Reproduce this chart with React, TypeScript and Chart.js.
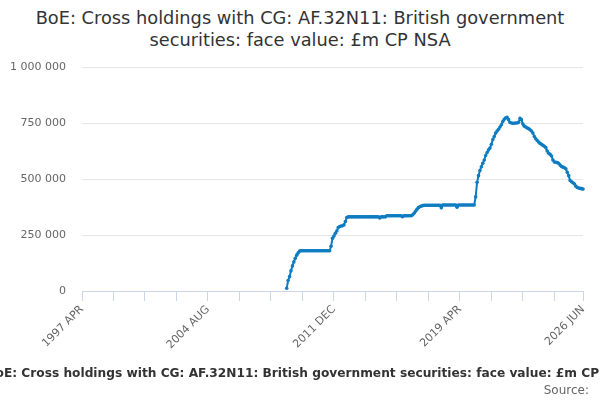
import React, { useEffect, useRef } from 'react';
import { Chart, registerables } from 'chart.js';

Chart.register(...registerables);

const TITLE_LINE_1 = 'BoE: Cross holdings with CG: AF.32N11: British government';
const TITLE_LINE_2 = 'securities: face value: £m CP NSA';
const FOOTER_TITLE =
  'BoE: Cross holdings with CG: AF.32N11: British government securities: face value: £m CP NSA';
const SOURCE_TEXT = 'Source:';

const MONTH_NAMES = ['JAN', 'FEB', 'MAR', 'APR', 'MAY', 'JUN', 'JUL', 'AUG', 'SEP', 'OCT', 'NOV', 'DEC'];
const START_YEAR = 1997;
const START_MONTH = 3; // APR (0-based)
const MONTH_COUNT = 351; // 1997 APR .. 2026 JUN
const SERIES_START = 143; // 2009 MAR
const LABEL_EVERY = 88;
const TICK_EVERY = 22;

const Y_TICKS = [0, 250000, 500000, 750000, 1000000];

// £m, monthly from 2009 MAR to 2026 JUN
const holdings = [
  12000, 47000, 64000, 90000, 112000, 130000, 146000, 160000, 170000, 178000,
  180000, 180000, 180000, 180000, 180000, 180000, 180000, 180000, 180000, 180000,
  180000, 180000, 180000, 180000, 180000, 180000, 180000, 180000, 180000, 180000, 180000,
  200000, 235000, 245000, 258000, 268000, 283000, 288000, 290000, 291000, 295000, 310000, 328000,
  331000, 331000, 331000, 331000, 331000, 331000, 331000, 331000, 331000, 331000, 331000,
  331000, 331000, 331000, 331000, 331000, 331000, 331000, 331000, 331000, 331000, 331000,
  326000,
  331000, 331000, 331000, 331000,
  336000, 336000, 336000, 336000, 336000, 336000, 336000, 336000, 336000, 336000, 336000,
  332000,
  336000, 336000, 336000, 336000, 336000, 336000,
  340000, 347000, 356000, 365000, 372000, 376000, 379000, 381000,
  383000, 383000, 383000, 383000, 383000, 383000, 383000, 383000, 383000, 383000, 383000, 383000,
  372000,
  384000, 384000, 384000, 384000, 384000, 384000, 384000, 384000, 384000, 384000,
  374000,
  384000, 384000, 384000, 384000, 384000, 384000, 384000, 384000, 384000, 384000, 384000, 384000,
  420000, 485000, 515000, 538000, 555000, 570000, 585000, 605000, 618000, 630000,
  638000, 655000, 676000, 690000, 705000, 714000, 722000, 732000, 742000, 757000,
  767000, 773000, 775000, 765000, 752000, 750000, 749000, 749000, 750000, 750000,
  753000, 771000, 765000, 745000, 736000, 732000, 728000, 725000, 720000, 714000,
  705000, 690000, 680000, 672000, 665000, 659000, 655000, 650000, 646000, 640000,
  625000, 615000, 610000, 603000, 585000, 576000, 575000, 573000, 570000, 562000,
  556000, 553000, 550000, 546000, 530000, 515000, 493000, 488000, 483000, 478000,
  468000, 462000, 460000, 458000, 457000, 455000,
];

const categories: string[] = [];
for (let i = 0; i < MONTH_COUNT; i++) {
  const m = START_MONTH + i;
  categories.push(`${START_YEAR + Math.floor(m / 12)} ${MONTH_NAMES[m % 12]}`);
}

const seriesData: (number | null)[] = [];
for (let i = 0; i < MONTH_COUNT; i++) {
  const k = i - SERIES_START;
  seriesData.push(k >= 0 && k < holdings.length ? holdings[k] : null);
}

const fmt = (v: number) => String(v).replace(/\B(?=(\d{3})+(?!\d))/g, ' ');

const FONT = '"DejaVu Sans", sans-serif';

export default function App() {
  const ref = useRef<HTMLCanvasElement | null>(null);

  useEffect(() => {
    if (!ref.current) return;
    const chart = new Chart(ref.current, {
      type: 'line',
      data: {
        labels: categories,
        datasets: [
          {
            data: seriesData,
            borderColor: '#0e7cc1',
            backgroundColor: '#0e7cc1',
            borderWidth: 2,
            pointRadius: 1.8,
            pointHoverRadius: 2,
            pointBorderWidth: 0,
            spanGaps: false,
            tension: 0,
          },
        ],
      },
      options: {
        animation: false,
        responsive: false,
        maintainAspectRatio: false,
        layout: { padding: { left: 0, right: 17, top: 67, bottom: 49 } },
        plugins: {
          legend: { display: false },
          tooltip: { enabled: false },
          title: { display: false },
        },
        scales: {
          x: {
            type: 'category',
            offset: false,
            afterFit: (scale: any) => {
              scale.height = 60;
            },
            border: { display: true, color: '#ccd6eb', width: 1 },
            grid: {
              drawOnChartArea: false,
              drawTicks: true,
              tickLength: 10,
              color: '#ccd6eb',
            },
            ticks: {
              autoSkip: false,
              maxRotation: 45,
              minRotation: 45,
              padding: 2,
              color: '#666666',
              font: { family: FONT, size: 11 },
              callback: (_v: any, i: number) => {
                if (i % LABEL_EVERY === 0 || i === MONTH_COUNT - 1) return categories[i];
                if (i % TICK_EVERY === 0) return '';
                return null;
              },
            },
          },
          y: {
            min: 0,
            max: 1000000,
            afterFit: (scale: any) => {
              scale.width = 82;
            },
            afterBuildTicks: (scale: any) => {
              scale.ticks = Y_TICKS.map((v) => ({ value: v }));
            },
            border: { display: false },
            grid: { color: '#e6e6e6', drawTicks: false, lineWidth: 1 },
            ticks: {
              padding: 16,
              color: '#666666',
              font: { family: FONT, size: 11 },
              callback: (v: any) => fmt(Number(v)),
            },
          },
        },
      },
    });
    return () => chart.destroy();
  }, []);

  return (
    <div
      style={{
        position: 'fixed',
        left: 0,
        top: 0,
        width: 600,
        height: 400,
        background: '#ffffff',
        overflow: 'hidden',
        fontFamily: FONT,
      }}
    >
      <div
        style={{
          position: 'absolute',
          top: 7,
          left: 0,
          width: 600,
          textAlign: 'center',
          fontSize: 17.8,
          lineHeight: '22px',
          color: '#333333',
          whiteSpace: 'nowrap',
        }}
      >
        {TITLE_LINE_1}
        <br />
        {TITLE_LINE_2}
      </div>
      <canvas ref={ref} width={600} height={400} style={{ position: 'absolute', left: 0, top: 0 }} />
      <div
        style={{
          position: 'absolute',
          top: 365,
          left: -191,
          width: 1000,
          textAlign: 'center',
          fontSize: 12.2,
          fontWeight: 'bold',
          lineHeight: '16px',
          color: '#333333',
          whiteSpace: 'nowrap',
        }}
      >
        {FOOTER_TITLE}
      </div>
      <div
        style={{
          position: 'absolute',
          top: 382,
          right: 11,
          fontSize: 12,
          lineHeight: '16px',
          color: '#666666',
          whiteSpace: 'nowrap',
        }}
      >
        {SOURCE_TEXT}
      </div>
    </div>
  );
}
